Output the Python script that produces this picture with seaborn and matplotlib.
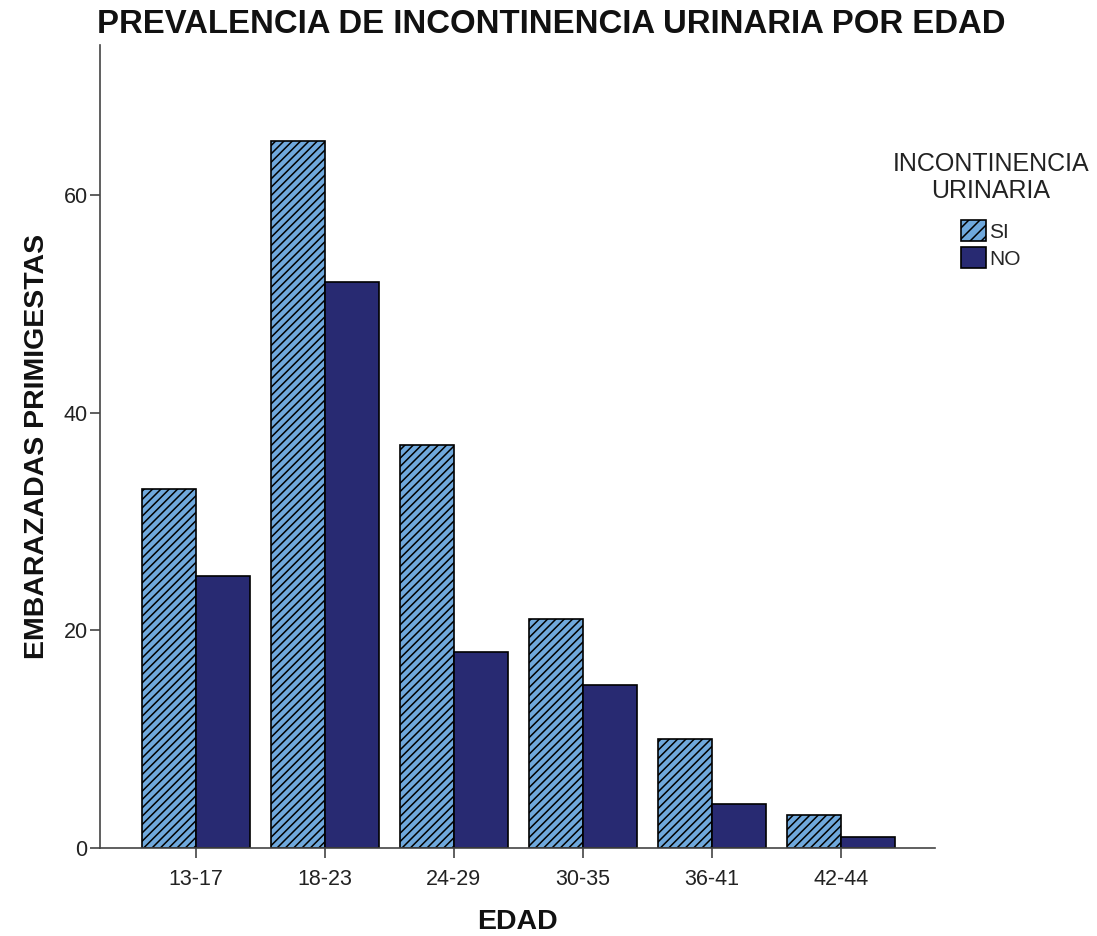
import pandas as pd
import matplotlib.pyplot as plt
import seaborn as sns

# Data
edades = ["13-17", "18-23", "24-29", "30-35", "36-41", "42-44"]
si_vals = [33, 65, 37, 21, 10, 3]
no_vals = [25, 52, 18, 15, 4, 1]

df = pd.DataFrame({
    "EDAD": edades * 2,
    "n": si_vals + no_vals,
    "IU": ["SI"] * len(edades) + ["NO"] * len(edades),
})

sns.set_style("white")
plt.rcParams['font.family'] = ['Liberation Sans', 'DejaVu Sans']
plt.rcParams['hatch.linewidth'] = 1.1

fig = plt.figure(figsize=(10.97, 9.36), dpi=100)
ax = fig.add_axes([0.0912, 0.094, 0.761, 0.858])

sns.barplot(data=df, x="EDAD", y="n", hue="IU", order=edades,
            hue_order=["SI", "NO"], palette=["#6fa8dc", "#282a72"],
            width=0.837, edgecolor="black", linewidth=1.2, saturation=1,
            ax=ax)

# hatch the SI bars
for bar in ax.containers[0]:
    bar.set_hatch("////")

ax.set_ylim(0, 73.8)
ax.set_xlim(-0.744, 5.73)
ax.set_yticks([0, 20, 40, 60])

for s in ["top", "right"]:
    ax.spines[s].set_visible(False)
for s in ["left", "bottom"]:
    ax.spines[s].set_color("#444444")
    ax.spines[s].set_linewidth(1.2)
ax.tick_params(axis="both", direction="out", length=7, width=1.2,
               bottom=True, left=True,
               color="#444444", labelsize=15.5, labelcolor="#222222")
ax.tick_params(axis="x", pad=8)
ax.tick_params(axis="y", pad=2)

ax.set_xlabel("EDAD", fontsize=20.5, fontweight="bold", labelpad=14,
              color="#111111")
ax.set_ylabel("EMBARAZADAS PRIMIGESTAS", fontsize=20.5, fontweight="bold",
              labelpad=10, color="#111111")
fig.text(0.088, 0.974, "PREVALENCIA DE INCONTINENCIA URINARIA POR EDAD",
         fontsize=23.7, fontweight="bold", ha="left", va="center",
         color="#111111")

leg = ax.legend(title="INCONTINENCIA\nURINARIA", loc="upper center",
                bbox_to_anchor=(0.903, 0.858), bbox_transform=fig.transFigure,
                frameon=False, fontsize=15, title_fontsize=18,
                handlelength=1.2, handleheight=1.2, handletextpad=0.15,
                labelspacing=0.25)
leg.get_title().set_multialignment("center")
leg.get_title().set_color("#222222")
leg._legend_box.sep = 12
# legend swatch for SI also hatched
leg.legend_handles[0].set_hatch("///")
leg.legend_handles[0].set_edgecolor("black")
leg.legend_handles[1].set_edgecolor("black")

plt.savefig("out.png", dpi=100)
